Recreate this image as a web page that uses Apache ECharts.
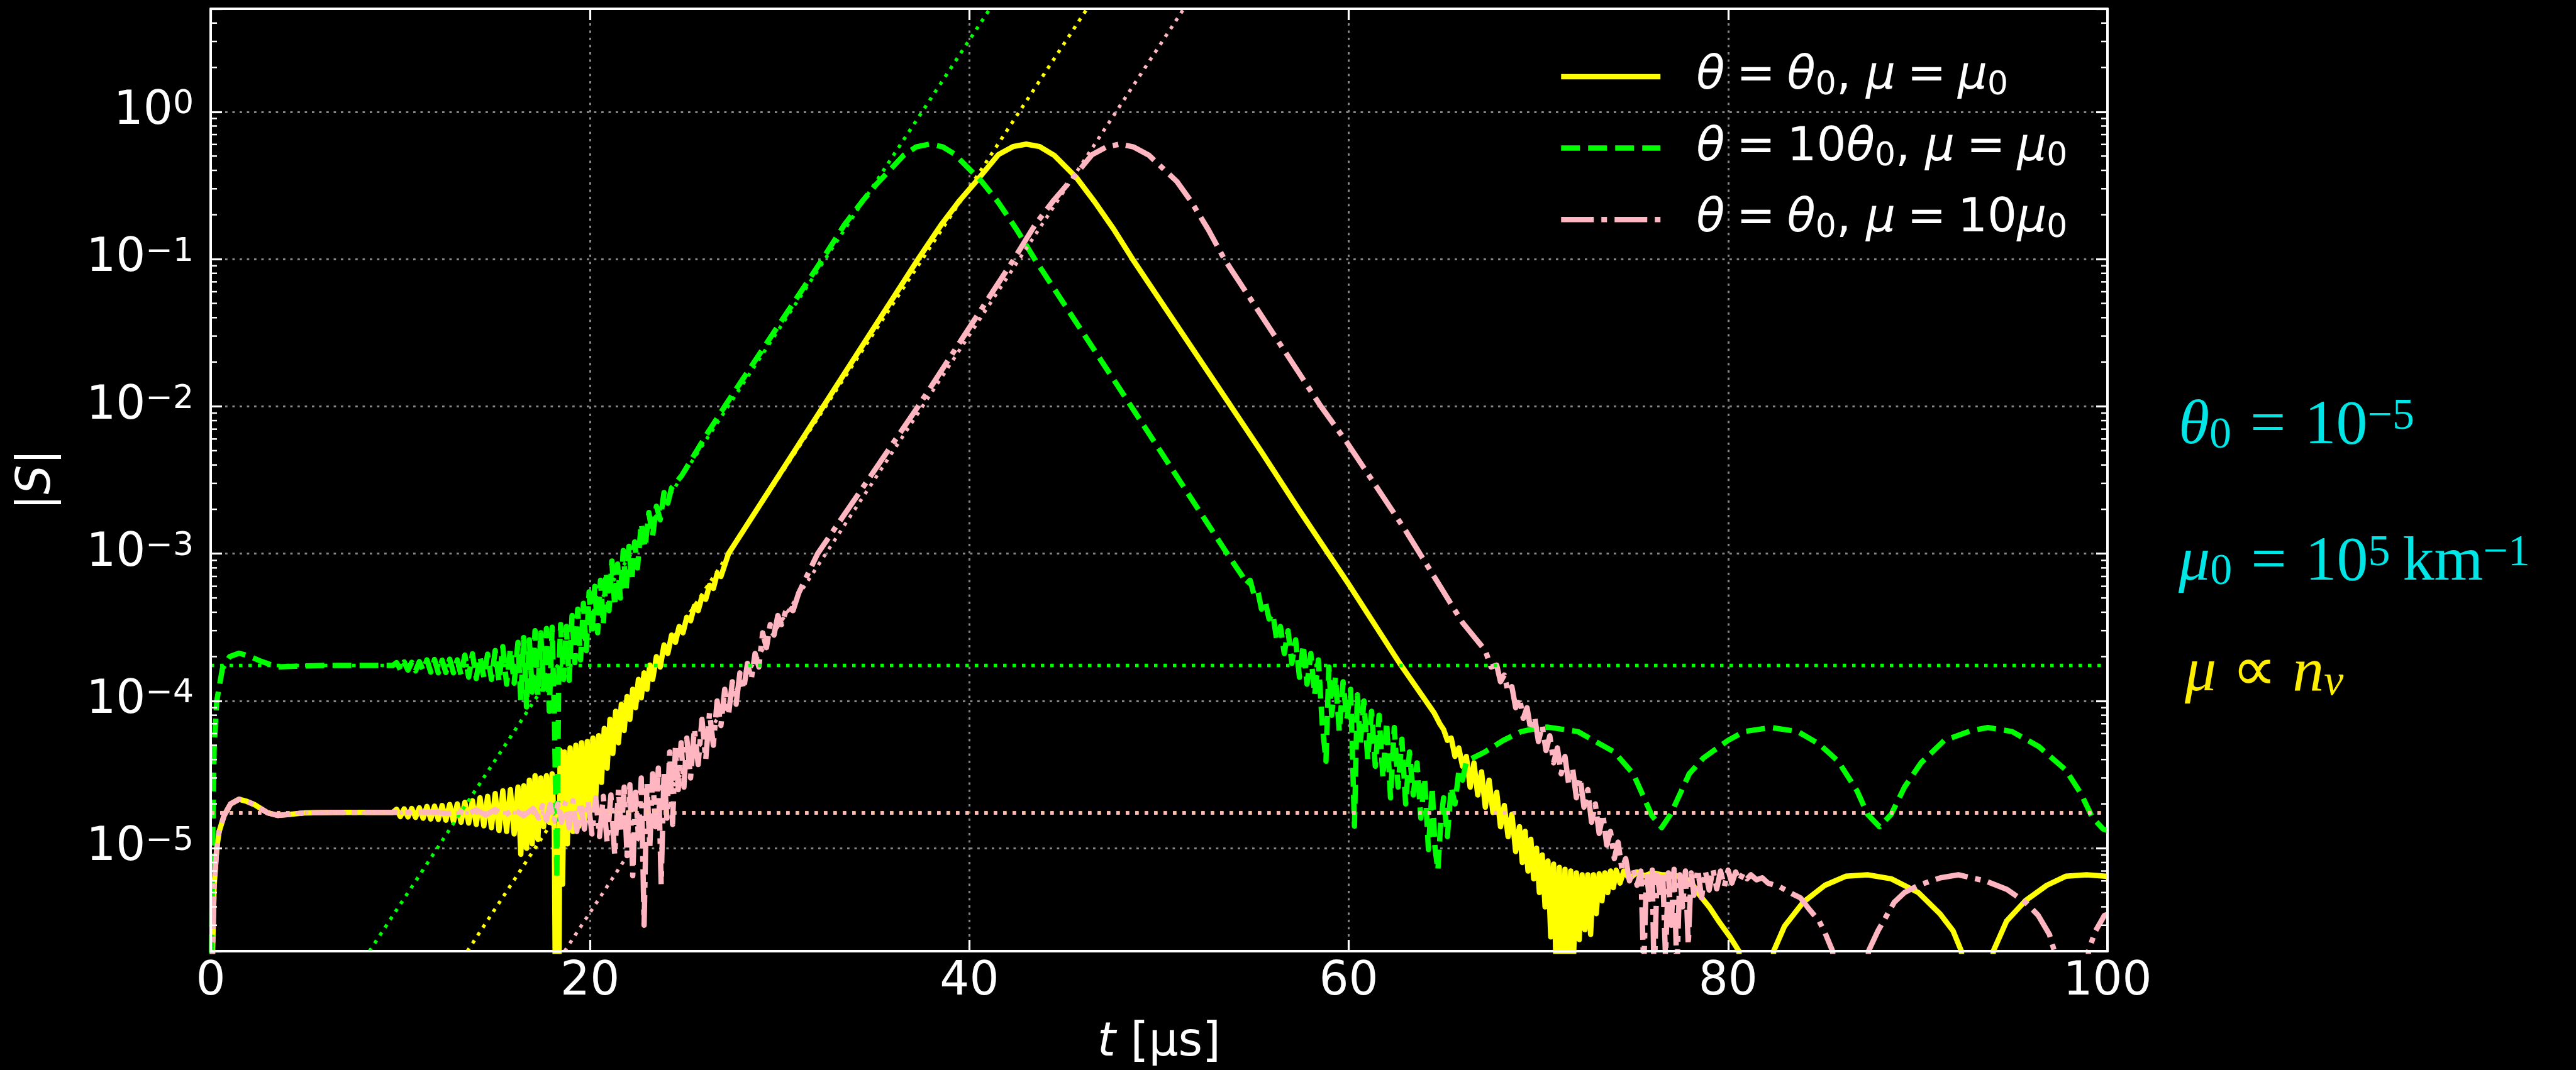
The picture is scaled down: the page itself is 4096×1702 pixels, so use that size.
<!DOCTYPE html>
<html><head><meta charset="utf-8">
<script src="https://cdn.jsdelivr.net/npm/echarts@6/dist/echarts.min.js"></script>
<style>html,body{margin:0;padding:0;background:#000;}#chart{width:4096px;height:1702px;}</style>
</head><body><div id="chart"></div>
<script>
// ---------------- data (t in microseconds, |S|) ----------------
const xRange = [0, 100];
const yRange = [2e-6, 5];
const xTickStep = 20;
const yMinorTicks = [3e-6,4e-6,5e-6,6e-6,7e-6,8e-6,9e-6,
  2e-5,3e-5,4e-5,5e-5,6e-5,7e-5,8e-5,9e-5,
  2e-4,3e-4,4e-4,5e-4,6e-4,7e-4,8e-4,9e-4,
  2e-3,3e-3,4e-3,5e-3,6e-3,7e-3,8e-3,9e-3,
  0.02,0.03,0.04,0.05,0.06,0.07,0.08,0.09,
  0.2,0.3,0.4,0.5,0.6,0.7,0.8,0.9,
  2,3,4];

const legendNames = ['θ = θ0, μ = μ0', 'θ = 10θ0, μ = μ0', 'θ = θ0, μ = 10μ0'];
const legendRich = [
  '{it|θ}{r|\u2005=\u2005}{it|θ}{sb|0}{r|, }{it|μ}{r|\u2005=\u2005}{it|μ}{sb|0}',
  '{it|θ}{r|\u2005=\u200510}{it|θ}{sb|0}{r|, }{it|μ}{r|\u2005=\u2005}{it|μ}{sb|0}',
  '{it|θ}{r|\u2005=\u2005}{it|θ}{sb|0}{r|, }{it|μ}{r|\u2005=\u200510}{it|μ}{sb|0}'
];

const yellowCurve = [
[0,1e-7],[0.1,2.0e-6],[0.18,5.5e-6],[0.32,1.0e-5],[0.44,1.29e-5],[0.7,1.66e-5],[1.05,2.0e-5],[1.5,2.15e-5],[1.9,2.08e-5],[2.3,1.98e-5],[3.0,1.74e-5],[3.55,1.67e-5],[4.2,1.7e-5],[5.0,1.74e-5],[6.5,1.75e-5],[8.0,1.75e-5],[9.6,1.75e-5],
[9.8,1.84e-5],[10.0,1.64e-5],[10.2,1.85e-5],[10.4,1.63e-5],[10.6,1.86e-5],[10.8,1.62e-5],[11.0,1.88e-5],[11.2,1.6e-5],[11.4,1.92e-5],[11.6,1.58e-5],[11.8,1.93e-5],[12.0,1.57e-5],[12.2,1.95e-5],[12.4,1.55e-5],[12.6,1.98e-5],[12.8,1.52e-5],[13.0,2.0e-5],[13.2,1.5e-5],[13.4,2.05e-5],[13.6,1.48e-5],[13.8,2.1e-5],[14.0,1.45e-5],[14.2,2.2e-5],[14.4,1.42e-5],[14.6,2.25e-5],[14.8,1.38e-5],[15.0,2.35e-5],[15.2,1.32e-5],[15.4,2.45e-5],[15.6,1.3e-5],[15.8,2.5e-5],[16.0,1.25e-5],[16.2,2.6e-5],[16.35,9.1e-6],[16.5,2.65e-5],[16.65,1.0e-5],[16.8,2.9e-5],[16.95,1.07e-5],[17.1,3.1e-5],[17.25,1.15e-5],[17.4,3.0e-5],[17.55,1.4e-5],[17.7,3.1e-5],[17.85,1.5e-5],[18.0,3.2e-5],[18.12,1.3e-5],[18.22,1e-7],[18.32,1e-7],[18.42,4.6e-5],[18.55,5.7e-6],[18.65,4.5e-5],[18.8,1.07e-5],[18.95,4.8e-5],[19.1,1.3e-5],[19.25,5.0e-5],[19.4,1.41e-5],[19.55,5.2e-5],[19.7,1.5e-5],[19.85,5.3e-5],[20.0,1.8e-5],[20.15,5.6e-5],[20.3,2.2e-5],[20.45,5.8e-5],[20.6,2.8e-5],[20.75,6.5e-5],[20.9,3.5e-5],[21.05,7.5e-5],[21.2,4.4e-5],[21.35,8.5e-5],[21.5,5.2e-5],[21.65,9.5e-5],[21.8,6.3e-5],[21.95,1.07e-4],[22.1,7.5e-5],[22.25,1.2e-4],[22.4,9.0e-5],[22.55,1.4e-4],[22.7,1.05e-4],[22.85,1.55e-4],[23.0,1.2e-4],[23.15,1.75e-4],[23.3,1.4e-4],[23.5,2.0e-4],[23.7,1.7e-4],[23.9,2.4e-4],[24.1,2.1e-4],[24.3,2.8e-4],[24.5,2.5e-4],[24.7,3.2e-4],[24.9,2.9e-4],[25.1,3.7e-4],[25.3,3.5e-4],[25.5,4.4e-4],[25.7,4.1e-4],[25.9,5.1e-4],[26.1,4.9e-4],[26.3,6.1e-4],[26.5,5.8e-4],[26.7,7.3e-4],[26.9,7.0e-4],
[27.3,1.0e-3],[32.3,1.0e-2],[37.3,0.1],[38.5,0.17],[39.5,0.251],[40.35,0.336],[41.53,0.512],[42.3,0.58],[43.0,0.603],[43.7,0.58],[44.47,0.506],[45.65,0.356],[46.6,0.245],[47.6,0.16],[48.6,0.1],[53.44,1.17e-2],[55.4,4.9e-3],[57.36,2.0e-3],[60.0,6.2e-4],[62.66,1.82e-4],[64.5,8.3e-5],
[64.8,7.0e-5],[65.0,6.4e-5],[65.2,5.4e-5],[65.4,5.6e-5],[65.6,4.2e-5],[65.8,4.8e-5],[66.0,3.6e-5],[66.2,4.2e-5],[66.4,2.6e-5],[66.6,3.8e-5],[66.8,2.3e-5],[67.0,3.3e-5],[67.2,1.9e-5],[67.4,2.9e-5],[67.6,1.75e-5],[67.8,2.4e-5],[68.0,1.4e-5],[68.2,1.95e-5],[68.4,1.2e-5],[68.6,1.7e-5],[68.8,9.5e-6],
[69.0,1.4e-5],[69.15,8.0e-6],[69.3,1.3e-5],[69.45,7.0e-6],[69.6,1.15e-5],[69.75,6.2e-6],[69.9,1.0e-5],[70.05,5.0e-6],[70.2,9.0e-6],[70.35,4.0e-6],[70.5,8.2e-6],[70.65,2.5e-6],[70.8,7.8e-6],[70.95,1.2e-6],[71.1,7.4e-6],[71.25,1.0e-6],[71.4,7.2e-6],[71.55,1.2e-6],[71.7,7.0e-6],[71.85,1.8e-6],[72.0,6.8e-6],[72.15,2.4e-6],[72.3,6.6e-6],[72.45,2.8e-6],[72.6,6.6e-6],[72.75,2.6e-6],[72.9,6.6e-6],[73.05,3.6e-6],[73.2,6.7e-6],[73.35,4.4e-6],[73.5,6.8e-6],[73.65,5.0e-6],[73.8,7.0e-6],[73.95,5.4e-6],[74.1,7.1e-6],[74.3,5.8e-6],[74.5,7.0e-6],[74.8,6.2e-6],[75.2,6.9e-6],[75.6,6.5e-6],[76.0,6.8e-6],[76.5,6.6e-6],[77.0,6.6e-6],[77.5,6.4e-6],[78.0,6.0e-6],[78.5,4.8e-6],[79.0,4.0e-6],[79.5,3.2e-6],[80.1,2.5e-6],[80.57,2.0e-6],[81.5,1e-8],
[82.4,2.0e-6],[82.97,2.95e-6],[83.96,4.3e-6],[85.1,5.6e-6],[86.2,6.45e-6],[87.35,6.6e-6],[88.6,6.2e-6],[90.03,5.0e-6],[91.16,3.6e-6],[91.86,2.75e-6],[92.3,2.0e-6],[93.1,1e-8],[93.98,2.0e-6],[94.68,3.2e-6],[95.67,4.4e-6],[96.8,5.6e-6],[97.8,6.45e-6],[98.9,6.6e-6],[99.9,6.45e-6],[100,6.4e-6]
];

const greenCurve = [
[0,1e-7],[0.05,2e-6],[0.12,1.5e-5],[0.18,4.7e-5],[0.32,1.0e-4],[0.62,1.66e-4],[1.0,2.0e-4],[1.49,2.11e-4],[2.0,2.02e-4],[2.65,1.86e-4],[3.5,1.7e-4],[4.5,1.72e-4],[6.0,1.74e-4],[8.0,1.74e-4],[9.6,1.74e-4],
[9.8,1.82e-4],[10.0,1.63e-4],[10.2,1.84e-4],[10.4,1.62e-4],[10.6,1.83e-4],[10.8,1.6e-4],[11.0,1.85e-4],[11.2,1.61e-4],[11.4,1.9e-4],[11.6,1.57e-4],[11.8,1.91e-4],[12.0,1.55e-4],[12.2,1.89e-4],[12.4,1.56e-4],[12.6,1.92e-4],[12.8,1.55e-4],[13.0,1.9e-4],[13.2,1.5e-4],[13.4,2.05e-4],[13.6,1.45e-4],[13.8,2.09e-4],[14.0,1.42e-4],[14.2,2.0e-4],[14.4,1.45e-4],[14.6,2.08e-4],[14.8,1.4e-4],[15.0,2.2e-4],[15.2,1.35e-4],[15.4,2.34e-4],[15.6,1.3e-4],[15.8,2.25e-4],[16.0,1.32e-4],[16.2,2.5e-4],[16.35,1.0e-4],[16.5,2.69e-4],[16.65,9.1e-5],[16.8,2.6e-4],[16.95,1.15e-4],[17.1,3.0e-4],[17.25,1.1e-4],[17.4,2.9e-4],[17.55,1.2e-4],[17.7,3.1e-4],[17.85,8.5e-5],[18.0,3.16e-4],[18.12,7.9e-5],[18.25,6.2e-6],[18.35,1.5e-4],[18.45,3.3e-4],[18.6,1.4e-4],[18.75,3.2e-4],[18.9,1.38e-4],[19.05,3.8e-4],[19.2,1.82e-4],[19.35,4.2e-4],[19.5,1.9e-4],[19.65,4.6e-4],[19.8,2.2e-4],[19.95,5.5e-4],[20.1,2.8e-4],[20.25,6.0e-4],[20.4,2.9e-4],[20.55,6.6e-4],[20.7,3.3e-4],[20.85,7.5e-4],[21.0,4.1e-4],[21.15,8.9e-4],[21.3,4.4e-4],[21.45,8.5e-4],[21.6,5.0e-4],[21.75,1.05e-3],[21.9,5.6e-4],[22.05,1.12e-3],[22.2,6.5e-4],[22.35,1.2e-3],[22.5,8.0e-4],[22.7,1.6e-3],[22.9,1.1e-3],[23.1,1.9e-3],[23.3,1.32e-3],[23.5,2.1e-3],[23.7,1.7e-3],[23.9,2.6e-3],[24.1,2.2e-3],[24.3,2.8e-3],
[24.84,3.4e-3],[26.2,6.6e-3],[27.1,1.0e-2],[32.26,0.1],[33.4,0.17],[34.4,0.251],[35.06,0.318],[36.53,0.506],[37.2,0.578],[37.9,0.603],[38.6,0.578],[39.18,0.52],[40.65,0.336],[41.5,0.245],[42.5,0.158],[43.44,0.1],[48.53,1.0e-2],[53.59,1.0e-3],
[54.4,7.0e-4],[54.6,6.2e-4],[54.8,6.6e-4],[55.0,5.3e-4],[55.2,5.6e-4],[55.4,4.2e-4],[55.6,4.7e-4],[55.8,3.6e-4],[56.0,3.9e-4],[56.2,2.6e-4],[56.4,3.2e-4],[56.6,2.1e-4],[56.8,3.0e-4],[57.0,1.8e-4],[57.2,2.6e-4],[57.4,1.45e-4],[57.6,2.4e-4],[57.8,1.3e-4],[58.0,2.1e-4],[58.2,1.1e-4],[58.4,1.9e-4],[58.6,7.0e-5],[58.8,3.9e-5],[58.95,1.7e-4],[59.1,8.0e-5],[59.3,1.45e-4],[59.5,6.2e-5],[59.7,1.35e-4],[59.9,7.5e-5],[60.1,1.2e-4],[60.3,1.41e-5],[60.45,1.1e-4],[60.6,5.0e-5],[60.8,1.0e-4],[61.0,4.0e-5],[61.2,8.5e-5],[61.4,3.6e-5],[61.6,8.0e-5],[61.8,3.0e-5],[62.0,7.2e-5],[62.2,2.2e-5],[62.4,6.6e-5],[62.6,2.6e-5],[62.8,5.5e-5],[63.0,2.0e-5],[63.2,4.5e-5],[63.4,2.3e-5],[63.6,3.8e-5],[63.8,1.6e-5],[64.0,3.0e-5],[64.2,9.8e-6],[64.4,2.6e-5],[64.55,1.0e-5],[64.7,7.1e-6],[64.85,1.5e-5],[65.0,2.2e-5],[65.2,1.2e-5],[65.4,2.6e-5],[65.6,2.0e-5],[65.8,3.3e-5],[66.0,2.9e-5],[66.2,3.9e-5],
[67.17,4.5e-5],[68.15,5.4e-5],[69.1,6.2e-5],[70.1,6.6e-5],[70.5,6.64e-5],[72.07,6.2e-5],[74.0,4.5e-5],[75.0,3.2e-5],[75.99,1.66e-5],[76.5,1.38e-5],[76.97,1.7e-5],[77.95,3.2e-5],[78.7,4.1e-5],[80.0,5.4e-5],[80.85,6.2e-5],[82.26,6.6e-5],[83.67,6.2e-5],[84.8,5.1e-5],[85.8,3.9e-5],[86.8,2.45e-5],[87.35,1.7e-5],[87.98,1.4e-5],[88.6,1.7e-5],[89.3,2.6e-5],[90.17,3.8e-5],[91.4,5.4e-5],[92.85,6.3e-5],[93.7,6.6e-5],[94.97,6.2e-5],[96.38,4.9e-5],[97.8,3.4e-5],[98.6,2.35e-5],[99.2,1.62e-5],[99.77,1.35e-5],[100,1.32e-5]
];

const pinkCurve = [
[0,1e-7],[0.1,2.0e-6],[0.18,5.5e-6],[0.32,1.0e-5],[0.44,1.29e-5],[0.7,1.66e-5],[1.05,2.0e-5],[1.5,2.15e-5],[1.9,2.08e-5],[2.3,1.98e-5],[3.0,1.74e-5],[3.55,1.67e-5],[4.2,1.7e-5],[5.0,1.74e-5],[6.5,1.75e-5],[8.0,1.75e-5],[10.0,1.75e-5],[12.0,1.75e-5],
[12.5,1.72e-5],[13.0,1.8e-5],[13.5,1.7e-5],[14.0,1.82e-5],[14.5,1.68e-5],[15.0,1.83e-5],[15.5,1.67e-5],[16.0,1.84e-5],[16.5,1.66e-5],[17.0,1.86e-5],[17.3,1.6e-5],[17.5,1.95e-5],[17.7,1.55e-5],[17.9,1.98e-5],[18.1,1.52e-5],[18.3,2.0e-5],[18.5,1.5e-5],[18.7,2.05e-5],[18.9,1.38e-5],[19.1,2.1e-5],[19.3,1.3e-5],[19.5,2.05e-5],[19.7,1.35e-5],[19.9,2.1e-5],[20.1,1.25e-5],[20.3,2.2e-5],[20.5,1.2e-5],[20.7,2.25e-5],[20.9,1.1e-5],[21.1,2.3e-5],[21.3,9.0e-6],[21.5,2.5e-5],[21.65,1.3e-5],[21.8,2.6e-5],[21.95,8.9e-6],[22.1,2.7e-5],[22.25,6.5e-6],[22.4,2.4e-5],[22.55,1.2e-5],[22.7,3.0e-5],[22.85,3.0e-6],[23.0,2.8e-5],[23.15,1.0e-5],[23.3,3.2e-5],[23.45,1.4e-5],[23.6,3.5e-5],[23.75,5.7e-6],[23.9,3.3e-5],[24.05,1.6e-5],[24.2,4.5e-5],[24.35,1.45e-5],[24.5,4.8e-5],[24.65,2.5e-5],[24.8,5.2e-5],[24.95,2.6e-5],[25.1,5.6e-5],[25.3,3.0e-5],[25.5,6.5e-5],[25.7,3.7e-5],[25.9,7.5e-5],[26.1,4.0e-5],[26.3,8.3e-5],[26.5,5.0e-5],[26.7,1.0e-4],[26.9,6.8e-5],[27.1,1.2e-4],[27.3,8.0e-5],[27.5,1.35e-4],[27.7,9.5e-5],[27.9,1.55e-4],[28.1,1.2e-4],[28.3,1.8e-4],[28.5,1.4e-4],[28.7,2.1e-4],[28.9,1.7e-4],[29.1,2.9e-4],[29.3,2.3e-4],[29.5,3.3e-4],[29.7,2.8e-4],[29.9,3.8e-4],[30.1,3.3e-4],[30.4,4.4e-4],[30.7,4.1e-4],[31.0,5.4e-4],
[32.0,1.0e-3],[37.3,1.0e-2],[42.35,0.1],[43.45,0.17],[44.45,0.251],[45.3,0.336],[46.47,0.512],[47.24,0.578],[47.94,0.603],[48.64,0.578],[49.47,0.506],[50.94,0.336],[51.7,0.245],[52.6,0.158],[53.44,0.1],[58.53,1.0e-2],[59.9,5.7e-3],[63.05,1.4e-3],[65.0,5.5e-4],[66.0,3.4e-4],[67.2,2.2e-4],
[67.5,1.7e-4],[67.8,1.75e-4],[68.0,1.35e-4],[68.2,1.5e-4],[68.4,1.15e-4],[68.6,1.25e-4],[68.8,9.0e-5],[69.0,1.05e-4],[69.2,7.6e-5],[69.4,9.0e-5],[69.6,6.3e-5],[69.8,7.8e-5],[70.0,5.3e-5],[70.2,6.8e-5],[70.4,4.6e-5],[70.6,5.8e-5],[70.8,3.8e-5],[71.0,4.8e-5],[71.2,3.2e-5],[71.4,4.2e-5],[71.6,2.7e-5],[71.8,3.5e-5],[72.0,2.2e-5],[72.2,3.0e-5],[72.4,1.9e-5],[72.6,2.5e-5],[72.8,1.5e-5],[73.0,2.0e-5],[73.2,1.26e-5],[73.4,1.7e-5],[73.6,1.05e-5],[73.8,1.3e-5],[74.0,8.5e-6],[74.2,1.1e-5],[74.4,7.2e-6],[74.6,8.5e-6],[74.8,6.0e-6],[75.0,7.2e-6],[75.2,5.6e-6],[75.4,7.0e-6],[75.55,1.5e-6],[75.7,6.8e-6],[75.85,4.5e-6],[76.0,7.1e-6],[76.1,1.2e-6],[76.25,6.6e-6],[76.4,5.0e-6],[76.55,7.0e-6],[76.7,1.8e-6],[76.85,6.8e-6],[77.0,3.0e-6],[77.15,7.2e-6],[77.3,1.4e-6],[77.45,6.6e-6],[77.6,4.0e-6],[77.75,7.0e-6],[77.9,2.2e-6],[78.05,6.8e-6],[78.2,4.8e-6],[78.4,7.2e-6],[78.6,4.6e-6],[78.8,7.0e-6],[79.0,5.2e-6],[79.2,7.2e-6],[79.4,5.3e-6],[79.6,7.0e-6],[79.8,5.5e-6],[80.0,7.1e-6],[80.2,5.8e-6],[80.4,6.9e-6],[80.6,6.0e-6],[80.8,6.8e-6],[81.0,6.2e-6],[81.2,6.6e-6],[81.5,6.1e-6],[81.8,6.3e-6],[82.1,5.8e-6],
[82.69,5.5e-6],[83.39,4.9e-6],[83.82,4.6e-6],[84.24,3.9e-6],[84.8,3.2e-6],[85.09,2.7e-6],[85.51,2.0e-6],[86.5,1e-8],[87.4,2.0e-6],[87.9,2.75e-6],[88.76,4.3e-6],[89.3,5.0e-6],[90.03,5.6e-6],[91.2,6.3e-6],[92.14,6.6e-6],[93.56,6.0e-6],[94.7,5.25e-6],[95.67,4.3e-6],[96.35,3.5e-6],[96.94,2.6e-6],[97.2,2.0e-6],[98.2,1e-8],[99.0,2.0e-6],[99.34,2.7e-6],[99.84,3.5e-6],[100,3.55e-6]
];

// dotted guide lines: exponential-growth fits and initial plateaus
const greenGrowthFit = [[8.37, 2e-6], [41.08, 5]];
const yellowGrowthFit = [[13.53, 2e-6], [46.2, 5]];
const pinkGrowthFit = [[18.66, 2e-6], [51.3, 5]];
const greenPlateau = [[0, 1.74e-4], [100, 1.74e-4]];
const yellowPlateau = [[0, 1.74e-5], [100, 1.74e-5]];
const pinkPlateau = [[0, 1.74e-5], [100, 1.74e-5]];

// ---------------- chart ----------------
const WHITE = '#ffffff';
const YEL = '#ffff00', GRN = '#00ff00', PNK = '#ffb6c1', CYAN = '#00e6e6', TXTYEL = '#ffee00';
const SANS = 'DejaVu Sans', SERIF = 'Liberation Serif';
const CURVE_W = 8.5;
const DOT_W = 5.5, DOT_DASH = [5.5, 9.5];

const chart = echarts.init(document.getElementById('chart'), null, {renderer: 'canvas', width: 4096, height: 1702});

function supLabel(v) {
  const l = Math.log10(v);
  const e = Math.round(l);
  if (Math.abs(l - e) > 1e-6) return '';
  return '{b|10}{s|' + (e < 0 ? '\u2212' + (-e) : String(e)) + '}';
}

const frameLine = {show: true, onZero: false, lineStyle: {color: WHITE, width: 4}};
const majorTick = {show: true, inside: true, length: 18, lineStyle: {color: WHITE, width: 3.2}};
const gridDots = {show: true, lineStyle: {color: '#888888', width: 3, type: [3.8, 7.7]}};
const hidden = {show: false};

function lineSeries(name, data, color, type, width, z) {
  return {
    name: name, type: 'line', data: data, xAxisIndex: 0, yAxisIndex: 0,
    showSymbol: false, symbol: 'none', smooth: false, clip: true, silent: true, z: z,
    lineStyle: {color: color, width: width, type: type, cap: 'butt', join: 'round'},
    itemStyle: {color: color}, emphasis: {disabled: true}
  };
}

const annRich = (c) => ({
  t:  {fontFamily: SERIF, fontSize: 100, lineHeight: 100, fill: c, color: c},
  eq: {fontFamily: SERIF, fontSize: 100, lineHeight: 100, padding: [0, 30, 0, 30], fill: c, color: c},
  ti: {fontFamily: SERIF, fontStyle: 'italic', fontSize: 100, lineHeight: 100, fill: c, color: c},
  ts: {fontFamily: SERIF, fontSize: 70, lineHeight: 30, verticalAlign: 'bottom', fill: c, color: c},
  tsi:{fontFamily: SERIF, fontStyle: 'italic', fontSize: 70, lineHeight: 30, verticalAlign: 'bottom', fill: c, color: c},
  tp: {fontFamily: SERIF, fontSize: 70, lineHeight: 45, verticalAlign: 'top', fill: c, color: c}
});
const labRich = {
  r: {fontFamily: SANS, fontSize: 74, lineHeight: 80, fill: WHITE, color: WHITE},
  i: {fontFamily: SANS, fontStyle: 'italic', fontSize: 74, lineHeight: 80, fill: WHITE, color: WHITE}
};

const option = {
  backgroundColor: '#000000',
  animation: false,
  textStyle: {fontFamily: SANS},
  grid: {left: 335, top: 14, width: 3016, height: 1499, containLabel: false, outerBoundsMode: 'none', show: false},
  xAxis: [
    {type: 'value', min: xRange[0], max: xRange[1], interval: xTickStep, position: 'bottom', z: 5,
     axisLine: frameLine, axisTick: majorTick, splitLine: hidden,
     axisLabel: {show: true, margin: 13, color: WHITE, fontSize: 74, lineHeight: 74, fontFamily: SANS, showMinLabel: true, showMaxLabel: true}},
    {type: 'value', min: xRange[0], max: xRange[1], interval: xTickStep, position: 'top', z: 5,
     axisLine: frameLine, axisTick: majorTick, splitLine: hidden, axisLabel: hidden},
    {type: 'value', min: xRange[0], max: xRange[1], interval: xTickStep, position: 'bottom', z: 0,
     axisLine: hidden, axisTick: hidden, axisLabel: hidden, splitLine: gridDots}
  ],
  yAxis: [
    {type: 'log', logBase: 10, min: yRange[0], max: yRange[1], position: 'left', z: 5,
     axisLine: frameLine, axisTick: majorTick, splitLine: hidden,
     axisLabel: {show: true, margin: 27, color: WHITE, formatter: supLabel,
       showMinLabel: true, showMaxLabel: true,
       rich: {b: {fontFamily: SANS, fontSize: 74, lineHeight: 74, color: WHITE},
              s: {fontFamily: SANS, fontSize: 52, lineHeight: 33, verticalAlign: 'top', color: WHITE}}}},
    {type: 'log', logBase: 10, min: yRange[0], max: yRange[1], position: 'right', z: 5,
     axisLine: frameLine, axisTick: majorTick, splitLine: hidden, axisLabel: hidden},
    {type: 'log', logBase: 10, min: yRange[0], max: yRange[1], position: 'left', z: 0,
     axisLine: hidden, axisTick: hidden, axisLabel: hidden, splitLine: gridDots}
  ],
  legend: {
    show: true, data: legendNames, orient: 'vertical', left: 2473, top: 77,
    itemWidth: 158, itemHeight: 14, itemGap: 33.6, selectedMode: false,
    itemStyle: {opacity: 0},
    lineStyle: {width: CURVE_W},
    formatter: (name) => legendRich[legendNames.indexOf(name)],
    textStyle: {color: WHITE, fontFamily: SANS, fontSize: 74, lineHeight: 80, padding: [0, 0, 0, 52],
      rich: {
        it: {fontFamily: SANS, fontStyle: 'italic', fontSize: 74, lineHeight: 80, color: WHITE},
        r:  {fontFamily: SANS, fontSize: 74, lineHeight: 80, color: WHITE},
        sb: {fontFamily: SANS, fontSize: 52, lineHeight: 40, verticalAlign: 'bottom', color: WHITE}
      }}
  },
  series: [
    lineSeries(legendNames[0], yellowCurve, YEL, 'solid', CURVE_W, 2),
    lineSeries(legendNames[1], greenCurve, GRN, [30, 13], CURVE_W, 2),
    lineSeries(legendNames[2], pinkCurve, PNK, [52, 12, 9, 12], CURVE_W, 2),
    lineSeries('greenFit', greenGrowthFit, GRN, DOT_DASH, DOT_W, 3),
    lineSeries('yellowFit', yellowGrowthFit, YEL, DOT_DASH, DOT_W, 3),
    lineSeries('pinkFit', pinkGrowthFit, PNK, DOT_DASH, DOT_W, 3),
    lineSeries('greenPlateau', greenPlateau, GRN, DOT_DASH, DOT_W, 3),
    lineSeries('yellowPlateau', yellowPlateau, YEL, DOT_DASH, DOT_W, 3),
    lineSeries('pinkPlateau', pinkPlateau, PNK, DOT_DASH, DOT_W, 3),
    {
      type: 'custom', name: 'minorTicks', xAxisIndex: 0, yAxisIndex: 0, z: 6, silent: true, clip: false,
      data: yMinorTicks.map(v => [xRange[0], v]),
      encode: {x: 0, y: 1},
      renderItem: function (params, api) {
        const v = api.value(1);
        const pl = api.coord([xRange[0], v]);
        const pr = api.coord([xRange[1], v]);
        return {type: 'group', children: [
          {type: 'line', shape: {x1: pl[0], y1: pl[1], x2: pl[0] + 10, y2: pl[1]}, style: {stroke: WHITE, lineWidth: 2.5}},
          {type: 'line', shape: {x1: pr[0] - 10, y1: pr[1], x2: pr[0], y2: pr[1]}, style: {stroke: WHITE, lineWidth: 2.5}}
        ]};
      }
    }
  ],
  graphic: [
    {type: 'text', x: 60, y: 763, rotation: Math.PI / 2, silent: true,
     style: {text: '{r||}{i|S}{r||}', rich: labRich, align: 'center', verticalAlign: 'middle', fill: WHITE}},
    {type: 'text', x: 1843, y: 1660, silent: true,
     style: {text: '{i|t}{r| [μs]}', rich: labRich, align: 'center', verticalAlign: 'middle', fill: WHITE}},
    {type: 'text', x: 3464, y: 679, silent: true,
     style: {text: '{ti|θ}{ts|0}{eq|=}{t|10}{tp|\u22125}', rich: annRich(CYAN), align: 'left', verticalAlign: 'middle', fill: CYAN}},
    {type: 'text', x: 3464, y: 896, silent: true,
     style: {text: '{ti|μ}{ts|0}{eq|=}{t|10}{tp|5}{t|\u2009km}{tp|\u22121}', rich: annRich(CYAN), align: 'left', verticalAlign: 'middle', fill: CYAN}},
    {type: 'text', x: 3474, y: 1072, silent: true,
     style: {text: '{ti|μ}{t| ∝ }{ti|n}{tsi|ν}', rich: annRich(TXTYEL), align: 'left', verticalAlign: 'middle', fill: TXTYEL}}
  ]
};
chart.setOption(option);
</script>
</body></html>
